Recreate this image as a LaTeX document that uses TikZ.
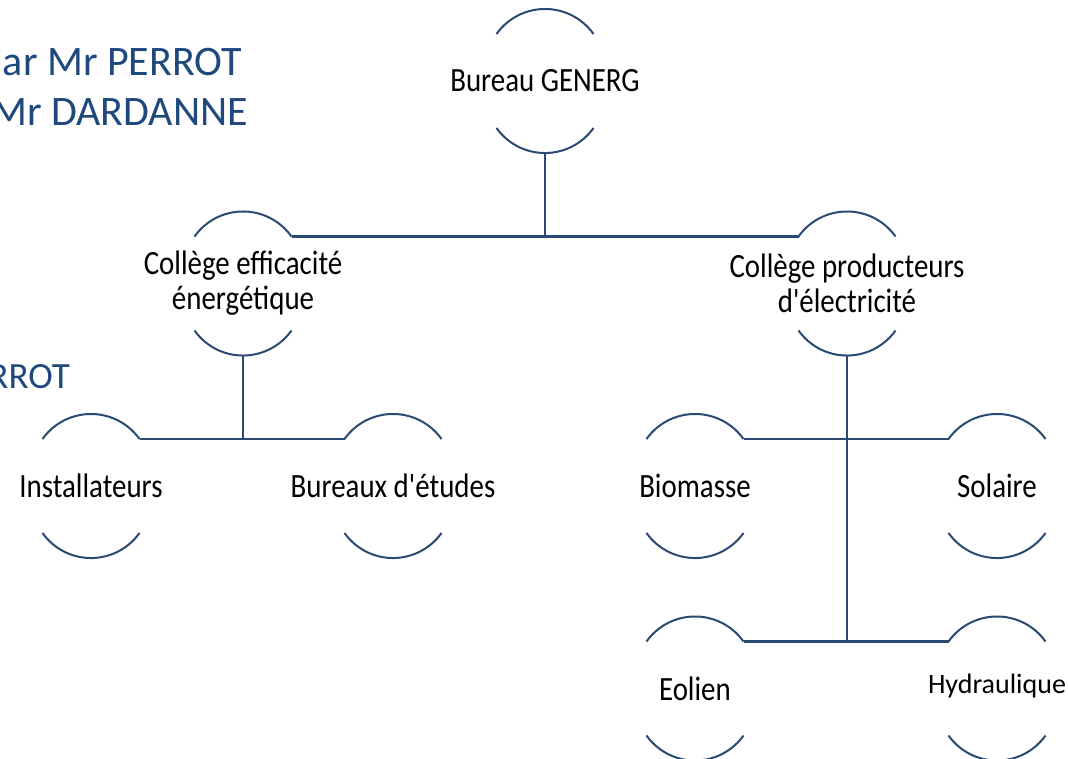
\documentclass[tikz,border=0pt]{standalone}
\usepackage{fontspec}
\usepackage{tikz}
\usetikzlibrary{positioning}
\newfontfamily\orgfont[FakeStretch=0.85]{Carlito}
\newfontfamily\titrefont{Carlito}
\definecolor{bleuligne}{HTML}{2A4A72}
\definecolor{bleutexte}{HTML}{1F497D}
\tikzset{
    %Define style for the text of a unit
    noeud/.style={
           align=center,
           inner sep=0pt,
           font=\orgfont\fontsize{34}{35}\selectfont,
           text=black},
    %Define style for the half circles
    demicercle/.style={
           draw=bleuligne,
           line width=2pt},
    % Define connector style
    lien/.style={
           draw=bleuligne,
           line width=2.4pt},
    titre/.style={
           anchor=base east,
           inner sep=0pt,
           font=\titrefont\fontsize{42}{44}\selectfont,
           text=bleutexte}
}
\begin{document}
\begin{tikzpicture}[x=1pt,y=1pt]
\useasboundingbox (0,0) rectangle (1068,-758);
\clip (0,0) rectangle (1068,-758);
 %text on the left
\node[titre](t1) at (242,-75){ar Mr PERROT};
\node[titre](t2) at (248,-125){Mr DARDANNE};
\node[titre, font=\titrefont\fontsize{37}{40}\selectfont](t3) at (70,-388){RROT};
 %nodes
\node[noeud](bureau) at (545,-81){Bureau GENERG};
\node[noeud](effic) at (243,-283.5){Collège efficacité\\énergétique};
\node[noeud](prod) at (847,-283.5){Collège producteurs\\d'électricité};
\node[noeud](install) at (91,-486){Installateurs};
\node[noeud](etudes) at (393,-486){Bureaux d'études};
\node[noeud](biomasse) at (695,-486){Biomasse};
\node[noeud](solaire) at (997,-486){Solaire};
\node[noeud](eolien) at (695,-688.5){Eolien};
\node[noeud, font=\titrefont\fontsize{28}{30}\selectfont](hydro) at (997,-686){Hydraulique};
 %half circles
\foreach \n/\c in {bureau/-81,effic/-283.5,prod/-283.5,install/-486,etudes/-486,
                   biomasse/-486,solaire/-486,eolien/-688.5,hydro/-688.5}{
  \coordinate (\n-c) at (\n.center |- 0,\c);
  \coordinate (\n-hg) at ([shift={(-48.5,47)}]\n-c);
  \coordinate (\n-hd) at ([shift={(48.5,47)}]\n-c);
  \coordinate (\n-b) at ([shift={(0,-72)}]\n-c);
  \draw[demicercle] (\n-hg) arc[start angle=144.6, end angle=35.4, radius=59.5];
  \draw[demicercle] ([shift={(-48.5,-47)}]\n-c) arc[start angle=215.4, end angle=324.6, radius=59.5];
}
 %connectors
\path[lien]
    (effic-hd) -- (prod-hg)
    (bureau-b) -- (bureau-b |- effic-hd)
    (install-hd) -- (etudes-hg)
    (effic-b) -- (effic-b |- install-hd)
    (biomasse-hd) -- (solaire-hg)
    (eolien-hd) -- (hydro-hg)
    (prod-b) -- (prod-b |- eolien-hd);
\end{tikzpicture}
\end{document}
